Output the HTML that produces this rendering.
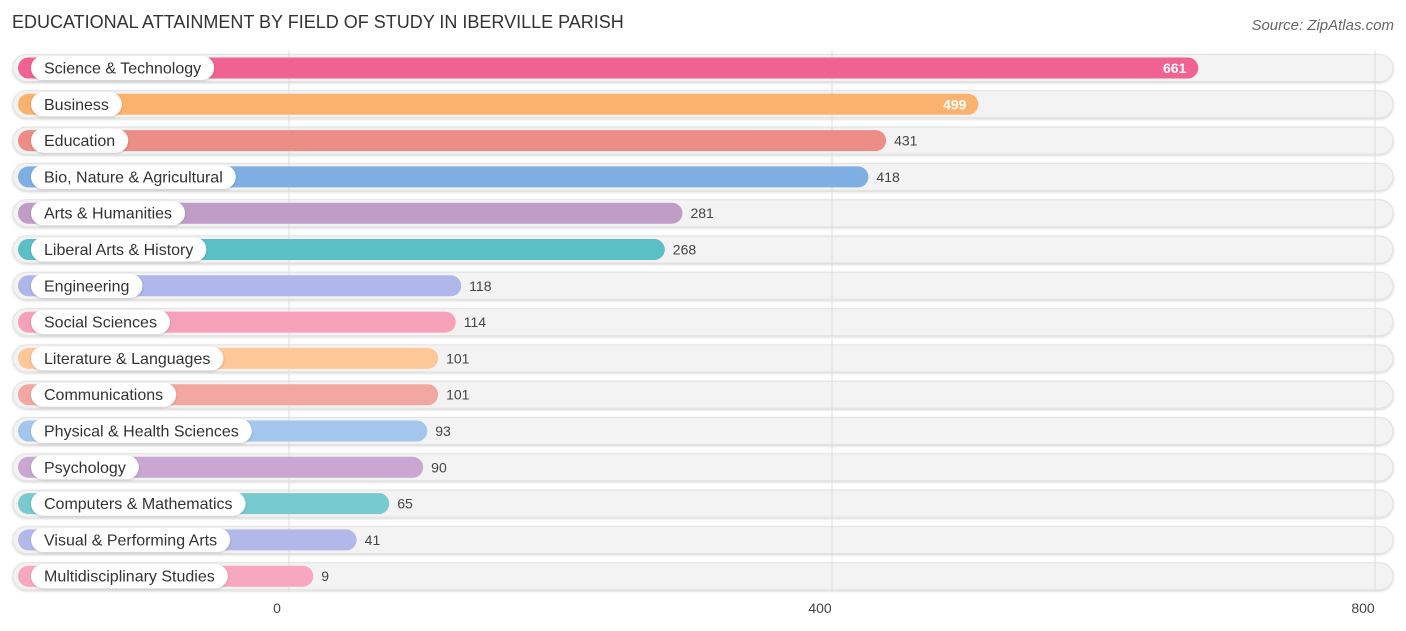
<!DOCTYPE html>
<html><head><meta charset="utf-8"><style>
body{margin:0;background:#fff;font-family:"Liberation Sans",sans-serif;}
svg{display:block}
</style></head><body>
<svg id="c" width="1406" height="631">
<text x="12" y="28" font-size="18" fill="#333">EDUCATIONAL ATTAINMENT BY FIELD OF STUDY IN IBERVILLE PARISH</text>
<text x="1394" y="30" font-size="15" fill="#666" text-anchor="end" font-style="italic">Source: ZipAtlas.com</text>
</svg>
<script>
const categories=["Science & Technology","Business","Education","Bio, Nature & Agricultural","Arts & Humanities","Liberal Arts & History","Engineering","Social Sciences","Literature & Languages","Communications","Physical & Health Sciences","Psychology","Computers & Mathematics","Visual & Performing Arts","Multidisciplinary Studies"];
const values=[661,499,431,418,281,268,118,114,101,101,93,90,65,41,9];
const ticks=[0,400,800];
const colors=["#f06292","#fbb26e","#ec8d86","#7eaee2","#bf9dc7","#5bbfc6","#aeb6ea","#f7a0ba","#fdc797","#f2a7a2","#a3c6ed","#c9a7d0","#77cace","#b3b8ea","#f8a7c0"];
const svg=document.getElementById('c');const NS='http://www.w3.org/2000/svg';
const x0=289,k=543/400;
const xs=v=>x0+v*k;
const y0=68,dy=36.3;
function mk(t,a,p){const e=document.createElementNS(NS,t);for(const q in a)e.setAttribute(q,a[q]);(p||svg).appendChild(e);return e;}
const defs=mk('defs',{});
const f=mk('filter',{id:'sh',x:'-5%',y:'-30%',width:'110%',height:'160%'},defs);
mk('feDropShadow',{dx:0,dy:1,stdDeviation:1.2,'flood-color':'#000','flood-opacity':0.18},f);
// row backgrounds
categories.forEach((c,i)=>{const y=y0+i*dy;
const r=mk('rect',{x:13,y:y-13.5,width:1380,height:27,rx:13.5,fill:'#f3f3f3',stroke:'#e2e2e2','stroke-width':1,filter:'url(#sh)'});
});
// grid
ticks.forEach(t=>{const l=mk('line',{x1:xs(t),x2:xs(t),y1:50,y2:592,stroke:'#ddd','stroke-width':1});

const tx=mk('text',{x:xs(t)-12,y:613,'font-size':14,fill:'#444','text-anchor':'middle'});tx.textContent=t;
});
categories.forEach((c,i)=>{const y=y0+i*dy;const end=xs(values[i])+12;
const b=mk('rect',{x:18,y:y-10.5,width:end-18,height:21,rx:10.5,fill:colors[i]});

const lt=mk('text',{x:44,y:y+5.5,'font-size':16,fill:'#333'});lt.textContent=c;
const w=lt.getComputedTextLength();
const p=mk('rect',{x:31,y:y-12,width:w+26,height:24,rx:12,fill:'#fff',filter:'url(#sh)'});
svg.insertBefore(p,lt);


const inside=values[i]>450;
const vt=mk('text',{x:inside?end-12:end+8,y:y+5,'font-size':14,fill:inside?'#fff':'#444','text-anchor':inside?'end':'start','font-weight':inside?'bold':'normal'});
vt.textContent=values[i];
});
</script>
</body></html>
